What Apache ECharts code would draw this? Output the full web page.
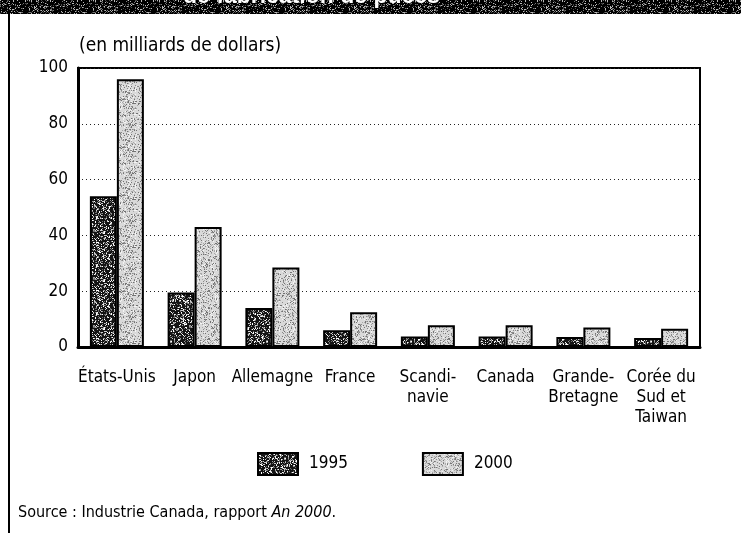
<!DOCTYPE html>
<html>
<head>
<meta charset="utf-8">
<script src="https://cdn.jsdelivr.net/npm/echarts@6/dist/echarts.min.js"></script>
<style>
  html, body { margin: 0; padding: 0; background: #fff; }
  #chart { width: 741px; height: 533px; }
</style>
</head>
<body>
<div id="chart"></div>
<script>
// Semiconductor production by country, in billions of dollars
const categories = ['États-Unis', 'Japon', 'Allemagne', 'France', 'Scandi-\nnavie', 'Canada', 'Grande-\nBretagne', 'Corée du\nSud et\nTaiwan'];
const values1995 = [54, 19.5, 14, 6, 3.8, 3.8, 3.6, 3.2];
const values2000 = [96, 43, 28.5, 12.5, 7.8, 7.8, 7.0, 6.5];
const seriesNames = ['1995', '2000'];
const yTicks = { min: 0, max: 100, interval: 20 };

const FONT = "'DejaVu Sans Condensed', 'Liberation Sans Narrow', sans-serif";

// Small deterministic speckle texture for the newsprint-like fills
function speckle(size, base, dots, density, seed) {
  const c = document.createElement('canvas');
  c.width = size; c.height = size;
  const g = c.getContext('2d');
  g.fillStyle = base;
  g.fillRect(0, 0, size, size);
  let s = seed >>> 0;
  const rnd = () => { s = (s * 1664525 + 1013904223) >>> 0; return s / 4294967296; };
  for (let y = 0; y < size; y++) {
    for (let x = 0; x < size; x++) {
      if (rnd() < density) {
        g.fillStyle = dots[Math.floor(rnd() * dots.length)];
        g.fillRect(x, y, 1, 1);
      }
    }
  }
  return c;
}

const darkFill = speckle(48, '#141414', ['#9a9a9a', '#cfcfcf', '#6a6a6a', '#ffffff'], 0.34, 7);
const lightFill = speckle(48, '#d9d9d9', ['#8a8a8a', '#a8a8a8', '#f4f4f4', '#727272'], 0.33, 19);
const bannerFill = speckle(64, '#000000', ['#777777', '#bbbbbb', '#444444'], 0.25, 3);

const chart = echarts.init(document.getElementById('chart'), null, { renderer: 'canvas' });

chart.setOption({
  animation: false,
  backgroundColor: '#ffffff',
  textStyle: { fontFamily: FONT, color: '#000' },
  grid: {
    left: 78, right: 41, top: 68, bottom: 186,
    show: true, borderColor: '#000', borderWidth: 2, backgroundColor: 'transparent'
  },
  legend: {
    data: seriesNames,
    left: 257, top: 452, padding: 0,
    itemWidth: 40, itemHeight: 22, itemGap: 74,
    icon: 'rect',
    textStyle: { fontFamily: FONT, fontSize: 17, color: '#000', padding: [0, 0, 0, 6] },
    selectedMode: false
  },
  xAxis: {
    type: 'category',
    data: categories,
    axisLine: { show: true, lineStyle: { color: '#000', width: 3 } },
    axisTick: { show: false },
    axisLabel: {
      interval: 0, margin: 21,
      fontFamily: FONT, fontSize: 17, lineHeight: 20, color: '#000', align: 'center'
    }
  },
  yAxis: {
    type: 'value',
    min: yTicks.min, max: yTicks.max, interval: yTicks.interval,
    axisLine: { show: true, lineStyle: { color: '#000', width: 3 } },
    axisTick: { show: false },
    axisLabel: { margin: 10, fontFamily: FONT, fontSize: 17, color: '#000' },
    splitLine: { show: true, lineStyle: { color: '#222', width: 1, type: [1, 3] } }
  },
  series: [
    {
      name: seriesNames[0], type: 'bar', data: values1995,
      barWidth: 27, barGap: '0%',
      itemStyle: { color: { image: darkFill, repeat: 'repeat' }, borderColor: '#000', borderWidth: 2 }
    },
    {
      name: seriesNames[1], type: 'bar', data: values2000,
      barWidth: 27, barGap: '0%',
      itemStyle: { color: { image: lightFill, repeat: 'repeat' }, borderColor: '#000', borderWidth: 2 }
    }
  ],
  graphic: [
    // dark header band with the clipped headline
    { type: 'rect', left: 0, top: 0, shape: { width: 741, height: 14 }, style: { fill: { image: bannerFill, repeat: 'repeat' } }, z: 10 },
    {
      type: 'text', left: 183, top: -15, z: 11,
      style: { text: 'de fabrication de puces', fill: '#fff', font: "bold 23px 'Liberation Sans', Arial, sans-serif" }
    },
    // page frame on the left
    { type: 'rect', left: 8, top: 14, shape: { width: 2, height: 519 }, style: { fill: '#000' }, z: 10 },
    // unit caption above the value axis
    {
      type: 'text', left: 79, top: 37,
      style: { text: '(en milliards de dollars)', fill: '#000', font: "19px " + FONT }
    },
    // source line
    {
      type: 'text', left: 18, top: 505,
      style: {
        text: '{r|Source : Industrie Canada, rapport }{i|An 2000}{r|.}',
        rich: {
          r: { fontFamily: FONT, fontSize: 16, fill: '#000', fontStyle: 'normal' },
          i: { fontFamily: FONT, fontSize: 16, fill: '#000', fontStyle: 'italic' }
        }
      }
    }
  ]
});
</script>
</body>
</html>
